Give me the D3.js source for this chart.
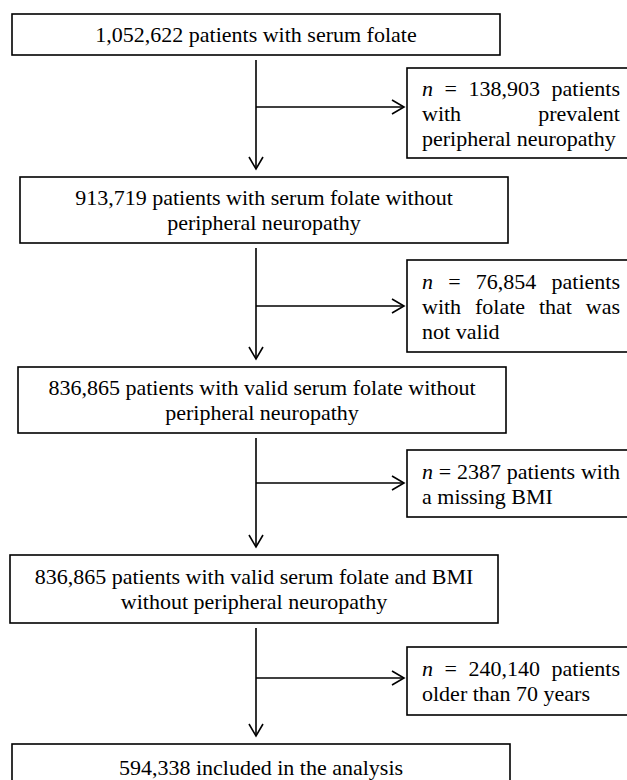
<!DOCTYPE html>
<html>
<head>
<meta charset="utf-8">
<script src="https://cdn.jsdelivr.net/npm/d3@7"></script>
<style>
  html, body { margin: 0; padding: 0; background: #fff; }
  svg { display: block; }
</style>
</head>
<body>
<svg id="chart" width="627" height="780"></svg>
<script>
// ---- data ----
const mainLines = [
  ["1,052,622 patients with serum folate"],
  ["913,719 patients with serum folate without", "peripheral neuropathy"],
  ["836,865 patients with valid serum folate without", "peripheral neuropathy"],
  ["836,865 patients with valid serum folate and BMI", "without peripheral neuropathy"],
  ["594,338 included in the analysis"]
];
const exclusionCounts = ["138,903", "76,854", "2387", "240,140"];
const exclusionLines = [
  [["n", "=", "138,903", "patients"], ["with", "prevalent"], ["peripheral", "neuropathy"]],
  [["n", "=", "76,854", "patients"], ["with", "folate", "that", "was"], ["not", "valid"]],
  [["n", "=", "2387", "patients", "with"], ["a", "missing", "BMI"]],
  [["n", "=", "240,140", "patients"], ["older", "than", "70", "years"]]
];

// ---- layout ----
const mainBoxes = [
  {x0: 12, x1: 500, y0: 14, y1: 55},
  {x0: 20, x1: 508, y0: 177, y1: 243},
  {x0: 18, x1: 506, y0: 367, y1: 433},
  {x0: 10, x1: 498, y0: 555, y1: 623},
  {x0: 12, x1: 510, y0: 744, y1: 795}
];
const sideBoxes = [
  {y0: 68, y1: 158, arrowY: 107},
  {y0: 260, y1: 352, arrowY: 306},
  {y0: 450, y1: 517, arrowY: 483},
  {y0: 647, y1: 715, arrowY: 678}
];
const spineX = 256, sideX0 = 407, sideX1 = 640, textPad = 15, textRight = 620;
const lineH = 25, sw = 1.6;
const FONT = "'Liberation Serif', 'Times New Roman', Times, 'DejaVu Serif', serif";

const svg = d3.select("#chart")
  .attr("font-family", FONT)
  .attr("font-size", 22);
const g = svg.append("g");

const styleText = sel => sel
  .attr("font-family", FONT)
  .attr("font-size", 22)
  .attr("fill", "#000");

// main boxes
g.selectAll("rect.main").data(mainBoxes).join("rect")
  .attr("class", "main")
  .attr("x", d => d.x0).attr("y", d => d.y0)
  .attr("width", d => d.x1 - d.x0).attr("height", d => d.y1 - d.y0)
  .attr("fill", "#fff").attr("stroke", "#000").attr("stroke-width", sw);

mainLines.forEach((lines, i) => {
  const b = mainBoxes[i];
  const cy = i === 4 ? 767 : (b.y0 + b.y1) / 2;
  const cx = (b.x0 + b.x1) / 2;
  const start = cy - (lines.length - 1) * lineH / 2;
  g.append("g").selectAll("text").data(lines).join("text")
    .call(styleText)
    .attr("x", cx)
    .attr("y", (d, j) => start + j * lineH + 7.5)
    .attr("text-anchor", "middle")
    .text(d => d);
});

// side boxes
g.selectAll("rect.side").data(sideBoxes).join("rect")
  .attr("class", "side")
  .attr("x", sideX0).attr("y", d => d.y0)
  .attr("width", sideX1 - sideX0).attr("height", d => d.y1 - d.y0)
  .attr("fill", "#fff").attr("stroke", "#000").attr("stroke-width", sw);

// justified text in side boxes
exclusionLines.forEach((lines, i) => {
  const b = sideBoxes[i];
  const mid = (b.y0 + b.y1) / 2;
  const start = mid - (lines.length - 1) * lineH / 2;
  lines.forEach((words, j) => {
    const y = start + j * lineH + 7.5;
    const tg = g.append("g");
    const nodes = words.map((w, k) => {
      const t = tg.append("text").call(styleText).attr("y", y).text(w);
      if (j === 0 && k === 0 && w === "n") t.attr("font-style", "italic");
      return t;
    });
    const widths = nodes.map(t => t.node().getComputedTextLength());
    const total = d3.sum(widths);
    const isLast = j === lines.length - 1;
    const space = 5.5;
    const avail = textRight - (sideX0 + textPad);
    const gap = (isLast || words.length < 2) ? space : (avail - total) / (words.length - 1);
    let x = sideX0 + textPad;
    nodes.forEach((t, k) => { t.attr("x", x); x += widths[k] + gap; });
  });
});

// connectors
const arrowHead = (x, y, dir) => {
  const p = d3.path();
  if (dir === "down") { p.moveTo(x - 7, y - 12); p.lineTo(x, y); p.lineTo(x + 7, y - 12); }
  else { p.moveTo(x - 12, y - 7); p.lineTo(x, y); p.lineTo(x - 12, y + 7); }
  return p.toString();
};
for (let i = 0; i < 4; i++) {
  const top = mainBoxes[i].y1 + 5;
  const tip = mainBoxes[i + 1].y0 - 8;
  g.append("line").attr("x1", spineX).attr("x2", spineX).attr("y1", top).attr("y2", tip)
    .attr("stroke", "#000").attr("stroke-width", sw);
  g.append("path").attr("d", arrowHead(spineX, tip, "down"))
    .attr("fill", "none").attr("stroke", "#000").attr("stroke-width", sw);
  const ay = sideBoxes[i].arrowY;
  g.append("line").attr("x1", spineX).attr("x2", sideX0 - 3).attr("y1", ay).attr("y2", ay)
    .attr("stroke", "#000").attr("stroke-width", sw);
  g.append("path").attr("d", arrowHead(sideX0 - 3, ay, "right"))
    .attr("fill", "none").attr("stroke", "#000").attr("stroke-width", sw);
}
</script>
</body>
</html>
